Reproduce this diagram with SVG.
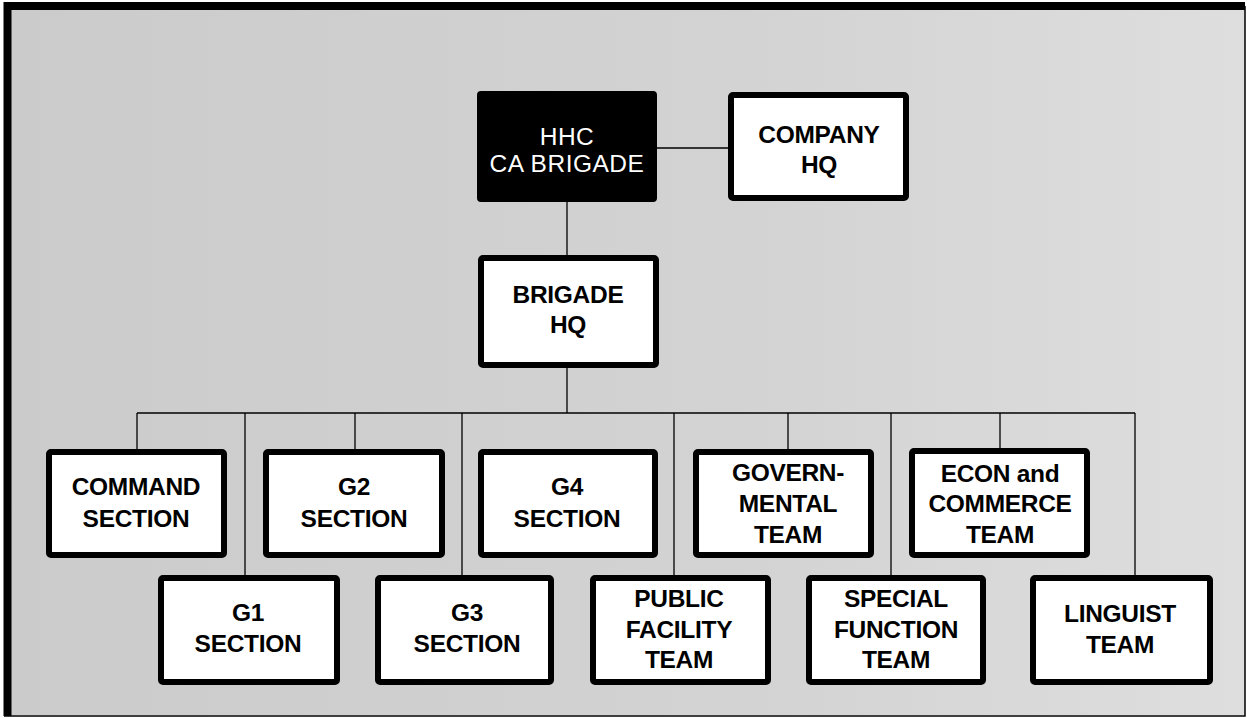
<svg xmlns="http://www.w3.org/2000/svg" width="1247" height="718" viewBox="0 0 1247 718">
<defs>
<linearGradient id="bg" x1="0" y1="0" x2="1" y2="0">
<stop offset="0" stop-color="#cbcbcb"/>
<stop offset="0.6" stop-color="#d3d3d3"/>
<stop offset="1" stop-color="#dedede"/>
</linearGradient>
</defs>
<style>
.box{fill:#ffffff;stroke:#000000;stroke-width:6}
.dark{fill:#000000;stroke:#000000;stroke-width:2}
.t{font-family:"Liberation Sans",Arial,sans-serif;font-size:24.5px;font-weight:bold;fill:#000000;text-anchor:middle;letter-spacing:-0.3px}
.w{font-family:"Liberation Sans",Arial,sans-serif;font-size:24.5px;fill:#ffffff;text-anchor:middle;letter-spacing:0.5px}
.ln{stroke:#000000;stroke-width:1.3;fill:none}
</style>
<rect x="0" y="0" width="1247" height="718" fill="#ffffff"/>
<rect x="8" y="7" width="1237" height="708" fill="url(#bg)"/>
<path d="M7.5,716 L7.5,6 L1245,6" fill="none" stroke="#000" stroke-width="8"/>
<path d="M1245,6 L1245,716 L4,716" fill="none" stroke="#000" stroke-width="1.5"/>

<g id="connectors">
<line class="ln" x1="656" y1="148" x2="728" y2="148"/>
<line class="ln" x1="567" y1="201" x2="567" y2="255"/>
<line class="ln" x1="567" y1="367" x2="567" y2="413"/>
<line class="ln" x1="137" y1="413" x2="1135" y2="413"/>
<line class="ln" x1="137" y1="413" x2="137" y2="449"/>
<line class="ln" x1="245" y1="413" x2="245" y2="575"/>
<line class="ln" x1="355" y1="413" x2="355" y2="449"/>
<line class="ln" x1="462" y1="413" x2="462" y2="575"/>
<line class="ln" x1="674" y1="413" x2="674" y2="575"/>
<line class="ln" x1="788" y1="413" x2="788" y2="449"/>
<line class="ln" x1="891" y1="413" x2="891" y2="575"/>
<line class="ln" x1="1000" y1="413" x2="1000" y2="449"/>
<line class="ln" x1="1135" y1="413" x2="1135" y2="575"/>
</g>

<g id="hhc">
<rect class="dark" x="478" y="92" width="178" height="109" rx="3"/>
<text class="w" x="567" y="145">HHC</text>
<text class="w" x="567" y="172">CA BRIGADE</text>
</g>
<g id="company-hq">
<rect class="box" x="731" y="95" width="175" height="103" rx="2"/>
<text class="t" x="819" y="143">COMPANY</text>
<text class="t" x="819" y="173">HQ</text>
</g>
<g id="brigade-hq">
<rect class="box" x="481" y="258" width="175" height="107" rx="2"/>
<text class="t" x="568" y="303">BRIGADE</text>
<text class="t" x="568" y="333">HQ</text>
</g>

<g id="command-section">
<rect class="box" x="49" y="452" width="175" height="103" rx="2"/>
<text class="t" x="136" y="495">COMMAND</text>
<text class="t" x="136" y="527">SECTION</text>
</g>
<g id="g2-section">
<rect class="box" x="266" y="452" width="176" height="103" rx="2"/>
<text class="t" x="354" y="495">G2</text>
<text class="t" x="354" y="527">SECTION</text>
</g>
<g id="g4-section">
<rect class="box" x="481" y="452" width="174" height="103" rx="2"/>
<text class="t" x="567" y="495">G4</text>
<text class="t" x="567" y="527">SECTION</text>
</g>
<g id="governmental-team">
<rect class="box" x="696" y="452" width="175" height="103" rx="2"/>
<text class="t" x="788" y="481">GOVERN-</text>
<text class="t" x="788" y="512">MENTAL</text>
<text class="t" x="788" y="543">TEAM</text>
</g>
<g id="econ-commerce-team">
<rect class="box" x="912" y="451" width="175" height="104" rx="2"/>
<text class="t" x="1000" y="482">ECON and</text>
<text class="t" x="1000" y="512">COMMERCE</text>
<text class="t" x="1000" y="543">TEAM</text>
</g>

<g id="g1-section">
<rect class="box" x="161" y="578" width="176" height="104" rx="2"/>
<text class="t" x="248" y="621">G1</text>
<text class="t" x="248" y="652">SECTION</text>
</g>
<g id="g3-section">
<rect class="box" x="378" y="578" width="173" height="104" rx="2"/>
<text class="t" x="467" y="621">G3</text>
<text class="t" x="467" y="652">SECTION</text>
</g>
<g id="public-facility-team">
<rect class="box" x="593" y="578" width="175" height="104" rx="2"/>
<text class="t" x="679" y="607">PUBLIC</text>
<text class="t" x="679" y="638">FACILITY</text>
<text class="t" x="679" y="668">TEAM</text>
</g>
<g id="special-function-team">
<rect class="box" x="809" y="578" width="174" height="104" rx="2"/>
<text class="t" x="896" y="607">SPECIAL</text>
<text class="t" x="896" y="638">FUNCTION</text>
<text class="t" x="896" y="668">TEAM</text>
</g>
<g id="linguist-team">
<rect class="box" x="1033" y="578" width="177" height="104" rx="2"/>
<text class="t" x="1120" y="622">LINGUIST</text>
<text class="t" x="1120" y="653">TEAM</text>
</g>
</svg>
